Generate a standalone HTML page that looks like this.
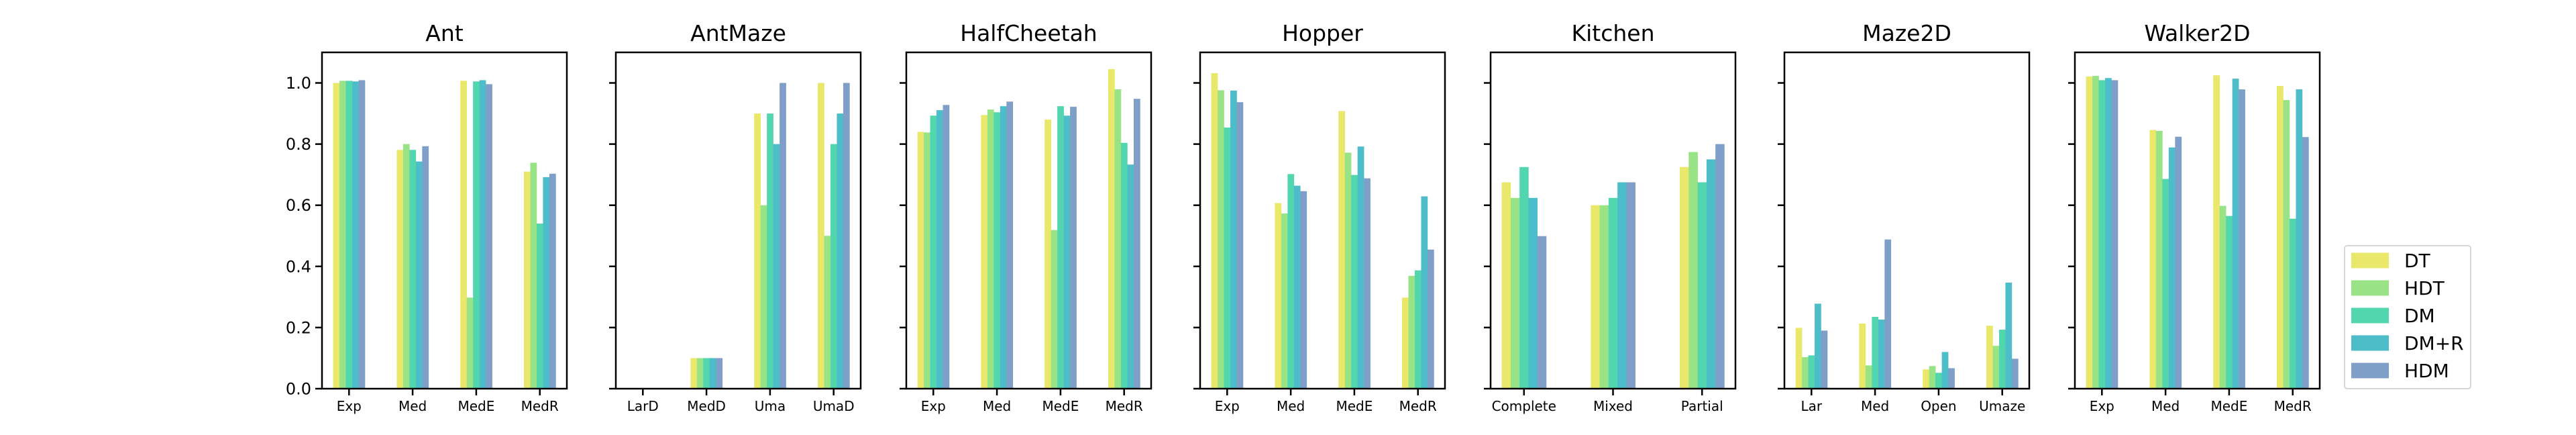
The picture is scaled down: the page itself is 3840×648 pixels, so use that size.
<!DOCTYPE html>
<html><head><meta charset="utf-8">
<style>
html,body{margin:0;padding:0;background:#fff;}
svg{display:block;font-family:"DejaVu Sans","Liberation Sans",sans-serif;}
</style></head>
<body>
<svg id="chart" width="3840" height="648" viewBox="0 0 3840 648" xmlns="http://www.w3.org/2000/svg"></svg>
<script>
const seriesNames = ["DT","HDT","DM","DM+R","HDM"];
const seriesColors = ["#e9e86a","#98e386","#52d6ae","#4dbdc9","#7f9fc8"];
const panelTitles = ["Ant","AntMaze","HalfCheetah","Hopper","Kitchen","Maze2D","Walker2D"];
const antCats = ["Exp","Med","MedE","MedR"];
const antVals = [[1.0,1.007,1.007,1.005,1.009],[0.781,0.80,0.781,0.743,0.793],[1.007,0.298,1.005,1.009,0.996],[0.71,0.739,0.54,0.692,0.703]];
const antMazeCats = ["LarD","MedD","Uma","UmaD"];
const antMazeVals = [[0,0,0,0,0],[0.1,0.1,0.1,0.1,0.1],[0.9,0.6,0.9,0.8,1.0],[1.0,0.5,0.8,0.9,1.0]];
const halfCheetahCats = ["Exp","Med","MedE","MedR"];
const halfCheetahVals = [[0.84,0.838,0.893,0.911,0.928],[0.895,0.913,0.904,0.924,0.939],[0.88,0.519,0.924,0.893,0.922],[1.045,0.979,0.804,0.733,0.948]];
const hopperCats = ["Exp","Med","MedE","MedR"];
const hopperVals = [[1.032,0.976,0.854,0.975,0.937],[0.607,0.573,0.702,0.664,0.646],[0.908,0.772,0.699,0.792,0.688],[0.298,0.369,0.387,0.629,0.455]];
const kitchenCats = ["Complete","Mixed","Partial"];
const kitchenVals = [[0.675,0.624,0.725,0.624,0.499],[0.6,0.6,0.624,0.675,0.675],[0.725,0.774,0.675,0.75,0.80]];
const maze2dCats = ["Lar","Med","Open","Umaze"];
const maze2dVals = [[0.199,0.103,0.109,0.278,0.19],[0.213,0.076,0.235,0.226,0.488],[0.063,0.074,0.052,0.12,0.067],[0.206,0.14,0.193,0.347,0.098]];
const walkerCats = ["Exp","Med","MedE","MedR"];
const walkerVals = [[1.021,1.023,1.009,1.016,1.009],[0.846,0.843,0.686,0.789,0.824],[1.025,0.598,0.565,1.014,0.979],[0.99,0.944,0.556,0.979,0.823]];
const yTicks = [0,0.2,0.4,0.6,0.8,1.0];
const yTickLabels = ["0.0","0.2","0.4","0.6","0.8","1.0"];

const panelCats = [antCats,antMazeCats,halfCheetahCats,hopperCats,kitchenCats,maze2dCats,walkerCats];
const panelVals = [antVals,antMazeVals,halfCheetahVals,hopperVals,kitchenVals,maze2dVals,walkerVals];
const panelLefts = [480,918,1351,1789,2222,2660,3093];
const PW = 365, TOP = 78, BOT = 579, YMAX = 1.1;
const NS = "http://www.w3.org/2000/svg";
const svg = document.getElementById("chart");
function mk(tag, attrs, parent){const e=document.createElementNS(NS,tag);for(const k in attrs)e.setAttribute(k,attrs[k]);(parent||svg).appendChild(e);return e;}
function yS(v){return BOT-(v/YMAX)*(BOT-TOP);}

panelTitles.forEach((title,p)=>{
  const L = panelLefts[p], cats = panelCats[p], vals = panelVals[p];
  const n = cats.length, xmin = -0.25-0.05*(n-0.5), xmax = n-0.75+0.05*(n-0.5);
  const xS = v => L + (v-xmin)/(xmax-xmin)*PW;
  const g = mk("g",{});
  
  
  const t = mk("text",{x:L+PW/2,y:61,"font-size":33,"text-anchor":"middle",fill:"#000"},g);
  t.textContent = title;
  
  
  vals.forEach((grp,c)=>{
    grp.forEach((v,s)=>{
      const x0 = xS(c+(s-2)*0.1-0.05), x1 = xS(c+(s-2)*0.1+0.05);
      if(v<=0) return;
      const r = mk("rect",{x:x0,y:yS(v),width:x1-x0+0.3,height:yS(0)-yS(v),fill:seriesColors[s]},g);
      
      
    });
    const cx = xS(c);
    mk("line",{x1:cx,x2:cx,y1:BOT,y2:BOT+10,stroke:"#000","stroke-width":2.5},g);
    const xl = mk("text",{x:cx,y:612,"font-size":20,"text-anchor":"middle",fill:"#000"},g);
    xl.textContent = cats[c];
    
    
  });
  yTicks.forEach((v,i)=>{
    const y = yS(v);
    mk("line",{x1:L-10,x2:L,y1:y,y2:y,stroke:"#000","stroke-width":2.5},g);
    if(p===0){
      const yl = mk("text",{x:L-16,y:y+8.5,"font-size":24,"text-anchor":"end",fill:"#000"},g);
      yl.textContent = yTickLabels[i];
      
      
    }
  });
  const fr = mk("rect",{x:L,y:TOP,width:PW,height:BOT-TOP,fill:"none",stroke:"#000","stroke-width":2.5},g);
  
  
});

// legend
const lg = mk("g",{});


mk("rect",{x:3495,y:366,width:188,height:213,rx:4,fill:"#fff",stroke:"#d6d6d6","stroke-width":2},lg);
seriesNames.forEach((nm,i)=>{
  const cy = 388 + i*41;
  const e = mk("g",{},lg);
  
  
  mk("rect",{x:3505,y:cy-11.5,width:56,height:23,fill:seriesColors[i]},e);
  const tx = mk("text",{x:3584,y:cy+10,"font-size":28,fill:"#000"},e);
  tx.textContent = nm;
});
</script>
</body></html>
